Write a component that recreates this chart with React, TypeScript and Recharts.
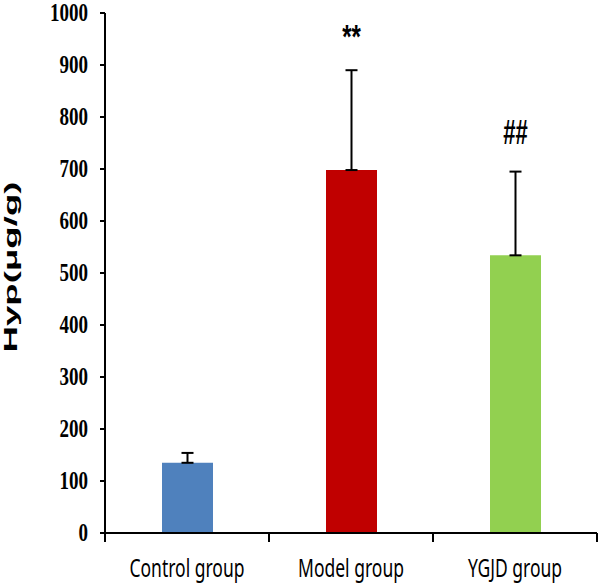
import { ComposedChart, Bar, XAxis, YAxis, ErrorBar, LabelList, Cell } from "recharts";

// Hyp content per group (µg/g)
const groups = ["Control group", "Model group", "YGJD group"];
const hypValues = [135, 698, 534];
const hypErrors = [19, 192, 161];
const marks = ["", "**", "##"];
const barColors = ["#4F81BD", "#C00000", "#92D050"];
const yTicks = [0, 100, 200, 300, 400, 500, 600, 700, 800, 900, 1000];

const MARK_GAP = 78; // annotation sits this far (data units) above the error bar

const data = groups.map((g, i) => ({
  group: g,
  hyp: hypValues[i],
  err: [0, hypErrors[i]],
  mark: marks[i],
}));

const YTick = ({ x, y, payload }: any) => (
  <text
    transform={`translate(${x},${y}) scale(1,1.3)`}
    textAnchor="end"
    dominantBaseline="central"
    fontFamily="'Liberation Serif', serif"
    fontWeight="bold"
    fontSize={19}
    fill="#000"
  >
    {payload.value}
  </text>
);

const XTick = ({ x, y, payload, index }: any) => {
  const half = payload.offset ?? 82;
  return (
    <g>
      {index === 0 && <line x1={x - half} x2={x - half} y1={y} y2={y + 9} stroke="#000" strokeWidth={2} />}
      <line x1={x + half} x2={x + half} y1={y} y2={y + 9} stroke="#000" strokeWidth={2} />
      <text
        transform={`translate(${x},${y + 44}) scale(1,1.45)`}
        textAnchor="middle"
        fontFamily="'Noto Sans', sans-serif"
        fontSize={17.5}
        fill="#000"
      >
        {payload.value}
      </text>
    </g>
  );
};

const YTitle = () => (
  <text
    transform="translate(17,267) rotate(-90)"
    textAnchor="middle"
    fontFamily="'Liberation Sans', Arial, sans-serif"
    fontWeight="bold"
    fontSize={18}
    textLength={171}
    lengthAdjust="spacingAndGlyphs"
    fill="#000"
  >
    Hyp(μg/g)
  </text>
);

const MarkLabel = (props: any) => {
  const { x, y, width, height, value, index } = props;
  if (!value) return null;
  const pxPerUnit = height / hypValues[index];
  const cy = y - (hypErrors[index] + MARK_GAP) * pxPerUnit;
  const isStar = value === "**";
  return (
    <text
      transform={`translate(${x + width / 2},${cy}) scale(1,${isStar ? 1.35 : 1.6})`}
      textAnchor="middle"
      dominantBaseline="central"
      dy={isStar ? 5 : 0}
      fontFamily="'Liberation Sans', sans-serif"
      fontWeight="bold"
      fontSize={isStar ? 24 : 22}
      fill="#000"
    >
      {value}
    </text>
  );
};

export default function App() {
  return (
    <div style={{ position: "absolute", left: 0, top: 0, background: "#fff" }}>
      <ComposedChart width={600} height={588} data={data} margin={{ top: 13, right: 3, bottom: 0, left: 0 }}>
        <XAxis
          dataKey="group"
          height={55}
          axisLine={{ stroke: "#000", strokeWidth: 2 }}
          tickLine={false}
          tickSize={0}
          tickMargin={0}
          tick={<XTick />}
          interval={0}
        />
        <YAxis
          width={105}
          domain={[0, 1000]}
          ticks={yTicks}
          interval={0}
          axisLine={{ stroke: "#000", strokeWidth: 2 }}
          tickLine={{ stroke: "#000", strokeWidth: 2 }}
          tickSize={5}
          tickMargin={12}
          tick={<YTick />}
          label={{ content: () => <YTitle /> }}
        />
        <Bar dataKey="hyp" barSize={51} isAnimationActive={false}>
          {data.map((d, i) => (
            <Cell key={d.group} fill={barColors[i]} />
          ))}
          <ErrorBar dataKey="err" width={6} stroke="#000" strokeWidth={2} isAnimationActive={false} />
          <LabelList dataKey="mark" content={<MarkLabel />} />
        </Bar>
      </ComposedChart>
    </div>
  );
}
